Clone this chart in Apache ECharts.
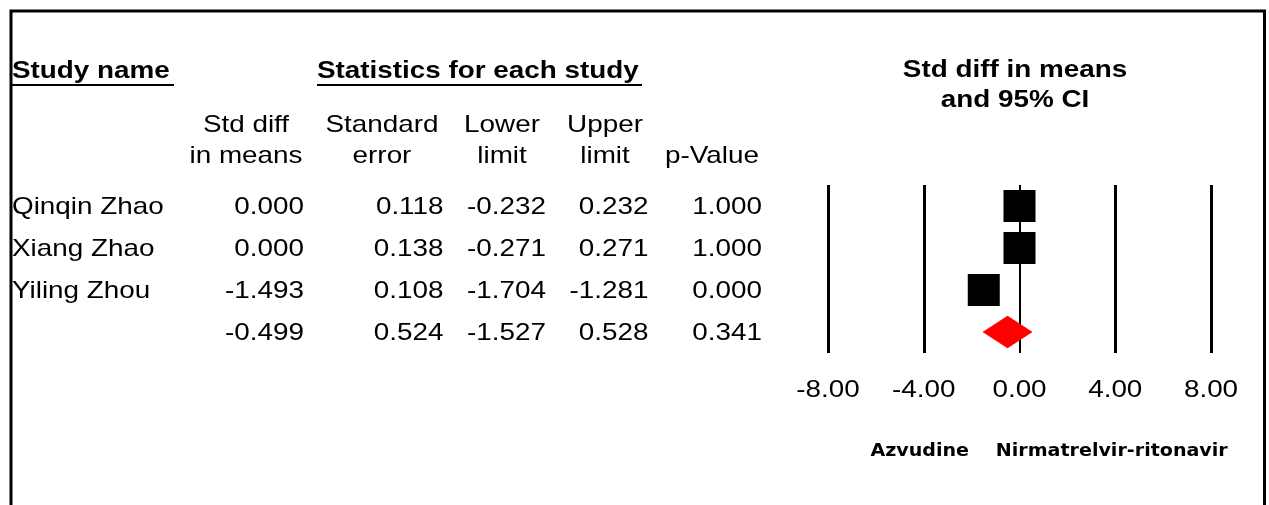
<!DOCTYPE html>
<html>
<head>
<meta charset="utf-8">
<title>Forest plot: Azvudine vs Nirmatrelvir-ritonavir</title>
<script src="https://cdn.jsdelivr.net/npm/echarts@6/dist/echarts.min.js"></script>
<style>
  html, body { margin: 0; padding: 0; background: #fff; }
  #chart { width: 1269px; height: 505px; }
</style>
</head>
<body>
<div id="chart"></div>
<script>
// Per-study statistics
const studies = ['Qinqin Zhao', 'Xiang Zhao', 'Yiling Zhou'];
const stdDiff = [0.000, 0.000, -1.493];
const stdErr  = [0.118, 0.138, 0.108];
const lowerLimit = [-0.232, -0.271, -1.704];
const upperLimit = [0.232, 0.271, -1.281];
const pValue = [1.000, 1.000, 0.000];

// Pooled (summary) estimate: [std diff, std error, lower, upper, p]
const pooled = [-0.499, 0.524, -1.527, 0.528, 0.341];

// Forest axis ticks
const tickValues = [-8, -4, 0, 4, 8];
const favourLabels = ['Azvudine', 'Nirmatrelvir-ritonavir'];

const FONT = "'Liberation Sans', Arial, sans-serif";
const SX = 1.16;   // horizontal stretch of all text
const DY = 1.5;    // puts cap-height centre on the requested y

const rowIdx = studies.map((_, i) => i + 1);
const pooledRow = studies.length + 1;

const chart = echarts.init(document.getElementById('chart'), null, { renderer: 'canvas' });

chart.setOption({
  animation: false,
  backgroundColor: '#fff',
  grid: { left: 828, width: 383, top: 185, height: 168 },
  xAxis: {
    type: 'value', min: -8, max: 8, interval: 4,
    axisLine: { show: false }, axisTick: { show: false },
    axisLabel: { show: false }, splitLine: { show: false }
  },
  yAxis: {
    type: 'value', min: 0.5, max: 4.5, inverse: true, show: false,
    splitLine: { show: false }
  },
  series: [
    {
      // vertical reference lines at each tick
      type: 'line', data: [], silent: true,
      markLine: {
        symbol: 'none', silent: true, label: { show: false },
        data: tickValues.map(v => ({
          xAxis: v,
          lineStyle: { color: '#000', type: 'solid', opacity: 1, width: v === 0 ? 2 : 3 }
        }))
      }
    },
    {
      // confidence intervals for each study
      type: 'custom', silent: true,
      data: studies.map((_, i) => [lowerLimit[i], upperLimit[i], rowIdx[i]]),
      renderItem: (params, api) => {
        const a = api.coord([api.value(0), api.value(2)]);
        const b = api.coord([api.value(1), api.value(2)]);
        return { type: 'line', shape: { x1: a[0], y1: a[1], x2: b[0], y2: b[1] },
                 style: { stroke: '#000', lineWidth: 1.5 } };
      },
      z: 3
    },
    {
      // point estimates
      type: 'scatter', symbol: 'rect', symbolSize: 32, silent: true,
      itemStyle: { color: '#000', opacity: 1 },
      data: studies.map((_, i) => [stdDiff[i], rowIdx[i]]),
      z: 4
    },
    {
      // pooled estimate diamond
      type: 'custom', silent: true,
      data: [[pooled[0], pooled[2], pooled[3], pooledRow]],
      renderItem: (params, api) => {
        const c = api.coord([api.value(0), api.value(3)]);
        const l = api.coord([api.value(1), api.value(3)]);
        const r = api.coord([api.value(2), api.value(3)]);
        const h = 16;
        return { type: 'polygon',
                 shape: { points: [[l[0], c[1]], [c[0], c[1] - h], [r[0], c[1]], [c[0], c[1] + h]] },
                 style: { fill: '#ff0000', stroke: '#ff0000', lineWidth: 0.5 } };
      },
      z: 5
    }
  ]
});

function txt(x, y, s, align, opts) {
  opts = opts || {};
  return {
    type: 'text', x: x, y: y + DY, scaleX: opts.scaleX || SX, silent: true, z: 10,
    style: {
      text: s, x: 0, y: 0,
      align: align, textAlign: align,
      verticalAlign: 'middle', textVerticalAlign: 'middle',
      fontFamily: opts.family || FONT,
      fontSize: opts.size || 24,
      fontWeight: opts.bold ? 'bold' : 'normal',
      fill: '#000'
    }
  };
}

const els = [];

// outer frame
els.push({ type: 'rect', silent: true, z: 1,
  shape: { x: 11, y: 11, width: 1253.5, height: 530 },
  style: { fill: null, stroke: '#000', lineWidth: 3 } });

// table headings
els.push(txt(12, 70, 'Study name', 'left', { bold: true }));
els.push(txt(317, 70, 'Statistics for each study', 'left', { bold: true }));
els.push({ type: 'rect', silent: true, shape: { x: 12, y: 84, width: 162, height: 2 }, style: { fill: '#000' } });
els.push({ type: 'rect', silent: true, shape: { x: 317, y: 84, width: 325, height: 2 }, style: { fill: '#000' } });

// column headings
const colCenters = [246, 382, 502, 605, 712];
const headLine1 = ['Std diff', 'Standard', 'Lower', 'Upper', ''];
const headLine2 = ['in means', 'error', 'limit', 'limit', 'p-Value'];
colCenters.forEach((cx, i) => {
  if (headLine1[i]) els.push(txt(cx, 123.5, headLine1[i], 'center'));
  els.push(txt(cx, 154.5, headLine2[i], 'center'));
});

// forest heading
els.push(txt(1015, 69, 'Std diff in means', 'center', { bold: true }));
els.push(txt(1015, 98.5, 'and 95% CI', 'center', { bold: true }));

// table body, rows placed on the forest plot's row scale
const colRights = [304, 443.5, 546, 648.5, 762];
function rowY(r) { return chart.convertToPixel({ yAxisIndex: 0 }, r); }
studies.forEach((name, i) => {
  const y = rowY(rowIdx[i]);
  els.push(txt(12, y, name, 'left'));
  [stdDiff[i], stdErr[i], lowerLimit[i], upperLimit[i], pValue[i]].forEach((v, j) => {
    els.push(txt(colRights[j], y, v.toFixed(3), 'right'));
  });
});
const yP = rowY(pooledRow);
pooled.forEach((v, j) => els.push(txt(colRights[j], yP, v.toFixed(3), 'right')));

// forest axis tick labels
const yBottom = rowY(4.5);
tickValues.forEach(v => {
  const x = chart.convertToPixel({ xAxisIndex: 0 }, v);
  els.push(txt(x, yBottom + 35.5, v.toFixed(2), 'center'));
});

// favours labels
const xL = chart.convertToPixel({ xAxisIndex: 0 }, -4) - 4;
const xR = chart.convertToPixel({ xAxisIndex: 0 }, 4) - 3.5;
const favOpts = { bold: true, size: 18, family: "'DejaVu Sans', Verdana, sans-serif", scaleX: 1.06 };
els.push(txt(xL, yBottom + 97, favourLabels[0], 'center', favOpts));
els.push(txt(xR, yBottom + 97, favourLabels[1], 'center', favOpts));

chart.setOption({ graphic: { elements: els } });
</script>
</body>
</html>
